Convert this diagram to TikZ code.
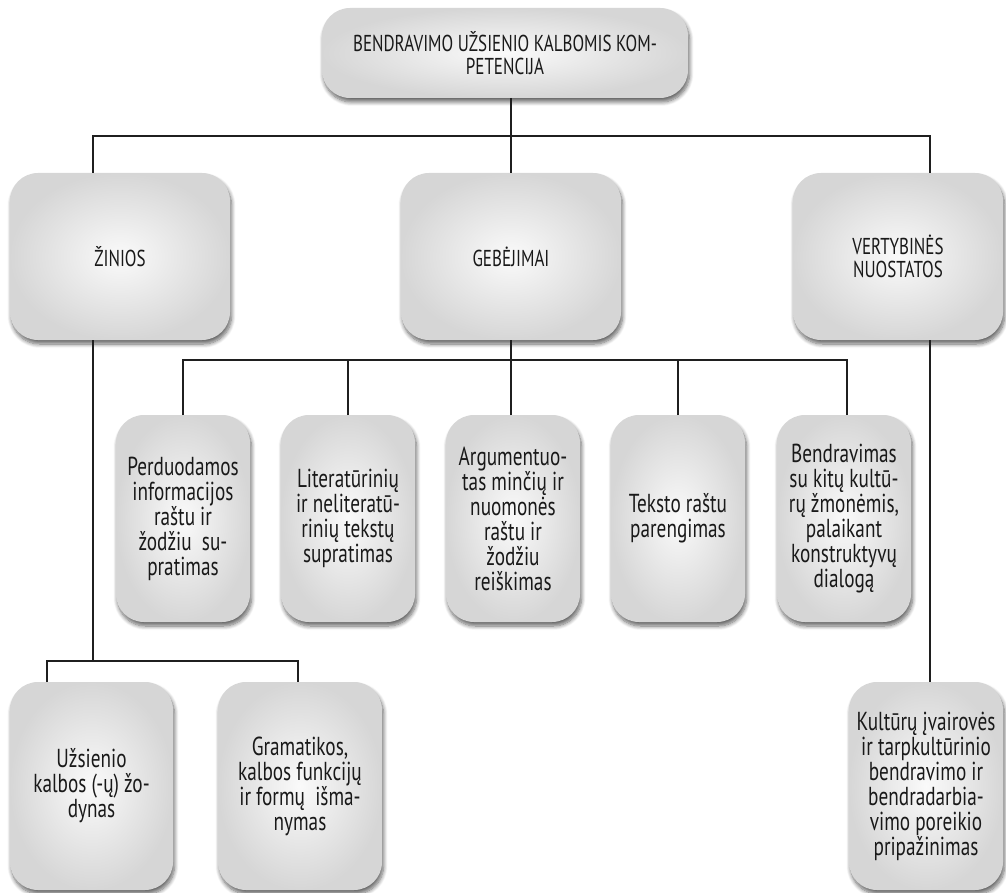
\documentclass[tikz,border=0pt]{standalone}
\usepackage{fontspec}
\setmainfont[FakeStretch=0.74]{PT Sans}
\usetikzlibrary{shadows.blur}
\begin{document}
\begin{tikzpicture}[x=1pt,y=-1pt,
  link/.style={draw=black!88, line width=2pt},
  pill/.style={rectangle, rounded corners=28pt, inner sep=0pt, outer sep=0pt,
    inner color=gray!4, outer color=gray!32, text=black!90, align=center,
    blur shadow={shadow xshift=1.5pt, shadow yshift=-4pt, shadow blur radius=4pt,
      shadow blur steps=8, shadow opacity=60}},
  headbox/.style={pill, font=\fontsize{23}{23.5}\selectfont},
  leafbox/.style={pill, minimum width=134pt, minimum height=207pt,
    font=\fontsize{26}{25}\selectfont},
  lowbox/.style={pill, minimum height=208pt, font=\fontsize{26}{25}\selectfont}]
\useasboundingbox (0,0) rectangle (1006,893);

% top level
\node[headbox, minimum width=366pt, minimum height=90pt] (top) at (505,53)
  {BENDRAVIMO UŽSIENIO KALBOMIS KOM-\\PETENCIJA};

% three main branches
\node[headbox, minimum width=220pt, minimum height=167pt] (zin) at (120,256.5) {ŽINIOS};
\node[headbox, minimum width=220pt, minimum height=167pt] (geb) at (511,256.5) {GEBĖJIMAI};
\node[headbox, minimum width=210pt, minimum height=167pt] (ver) at (898,256.5)
  {VERTYBINĖS\\NUOSTATOS};

% abilities
\node[leafbox] (r1) at (183,518.5) {Perduodamos\\informacijos\\raštu ir\\žodžiu~ su-\\pratimas};
\node[leafbox] (r2) at (348,518.5) {Literatūrinių\\ir neliteratū-\\rinių tekstų\\supratimas};
\node[leafbox] (r3) at (513,518.5) {Argumentuo-\\tas minčių ir\\nuomonės\\raštu ir\\žodžiu\\reiškimas};
\node[leafbox] (r4) at (678,518.5) {Teksto raštu\\parengimas};
\node[leafbox] (r5) at (844,518.5) {Bendravimas\\su kitų kultū-\\rų žmonėmis,\\palaikant\\konstruktyvų\\dialogą};

% knowledge and attitudes
\node[lowbox, minimum width=163pt] (ub) at (91.5,786) {Užsienio\\kalbos (-ų) žo-\\dynas};
\node[lowbox, minimum width=164pt] (gr) at (300,786) {Gramatikos,\\kalbos funkcijų\\ir formų~ išma-\\nymas};
\node[lowbox, minimum width=154pt] (kul) at (926,786) {Kultūrų įvairovės\\ir tarpkultūrinio\\bendravimo ir\\bendradarbia-\\vimo poreikio\\pripažinimas};

% junction points
\coordinate (b1L) at (93,136);
\coordinate (b1R) at (930,136);
\coordinate (b2L) at (183,360);
\coordinate (b2R) at (847,360);
\coordinate (b3L) at (47,661);
\coordinate (b3R) at (298,661);

% connectors
\draw[link] (top.south -| geb.north) -- (geb.north);
\draw[link] (b1L |- zin.north) -- (b1L) -- (b1R) -- (b1R |- ver.north);
\draw[link] (geb.south) -- (geb.south |- b2L);
\draw[link] (b2L |- r1.north) -- (b2L) -- (b2R) -- (b2R |- r5.north);
\draw[link] (r2.north) -- (r2.north |- b2L);
\draw[link] (r3.north -| geb.south) -- (geb.south |- b2L);
\draw[link] (r4.north) -- (r4.north |- b2L);
\draw[link] (zin.south -| b1L) -- (b1L |- b3L);
\draw[link] (b3L |- ub.north) -- (b3L) -- (b3R) -- (b3R |- gr.north);
\draw[link] (ver.south -| b1R) -- (b1R |- kul.north);
\end{tikzpicture}
\end{document}
